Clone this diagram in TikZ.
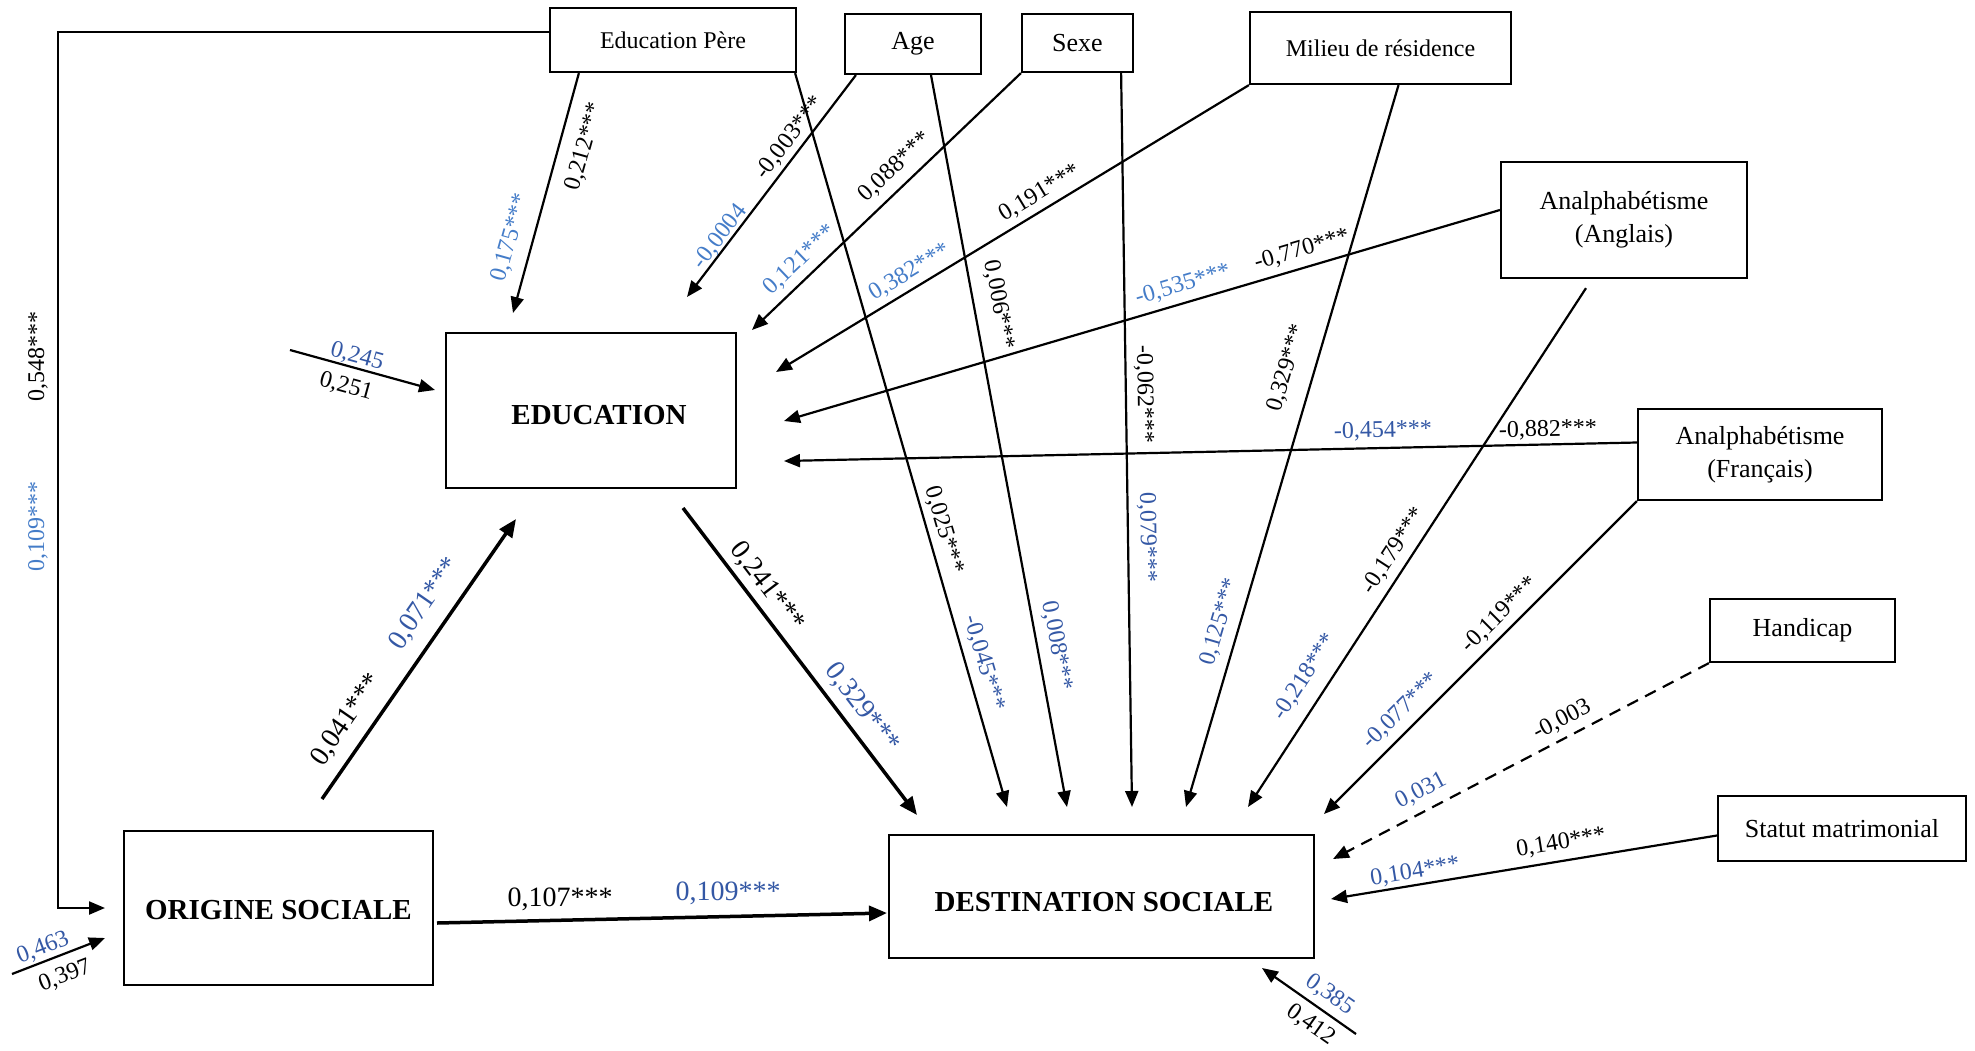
\documentclass[tikz,border=0pt]{standalone}
\usepackage{fontspec}
\setmainfont{Liberation Serif}
\usetikzlibrary{arrows.meta}
\definecolor{lblue}{RGB}{68,124,200}
\definecolor{dblue}{RGB}{52,88,165}
\begin{document}
\begin{tikzpicture}[x=1pt,y=-1pt,
  box/.style={draw, line width=2.2pt, inner sep=0pt, align=center},
  smallbox/.style={box, font=\fontsize{26}{33}\selectfont},
  bigbox/.style={box, font=\fontsize{29}{34}\selectfont\bfseries, text depth=0pt},
  link/.style={line width=2.2pt, -{Triangle[length=16pt,width=13pt]}},
  thicklink/.style={line width=3.5pt, -{Triangle[length=18pt,width=15pt]}},
  dashlink/.style={link, dash pattern=on 12pt off 8pt},
  coef/.style={inner sep=0pt, font=\fontsize{24}{28}\selectfont},
  bigcoef/.style={inner sep=0pt, font=\fontsize{28}{32}\selectfont},
  ]
\useasboundingbox (0,0) rectangle (1975,1050);

% variables
\node[smallbox, minimum width=246pt, minimum height=64pt, font=\fontsize{24}{28}\selectfont] (ep) at (673,40) {Education Père};
\node[smallbox, minimum width=136pt, minimum height=60pt] (age) at (913,44) {Age};
\node[smallbox, minimum width=111pt, minimum height=58pt] (sexe) at (1077.5,43) {Sexe};
\node[smallbox, minimum width=261pt, minimum height=72pt, font=\fontsize{24}{28}\selectfont] (mil) at (1380.5,48) {Milieu de résidence};
\node[smallbox, minimum width=246pt, minimum height=116pt] (ang) at (1624,220) {Analphabétisme\\(Anglais)};
\node[smallbox, minimum width=244pt, minimum height=91pt] (fra) at (1760,454.5) {Analphabétisme\\(Français)};
\node[smallbox, minimum width=185pt, minimum height=63pt] (hand) at (1802.5,630.5) {Handicap};
\node[smallbox, minimum width=248pt, minimum height=65pt] (stat) at (1842,828.5) {Statut matrimonial};
\node[bigbox, minimum width=290pt, minimum height=155pt, text height=28pt] (edu) at (591,410.5) {\hspace*{16pt}EDUCATION};
\node[bigbox, minimum width=309pt, minimum height=154pt, text height=23pt] (ori) at (278.5,908) {ORIGINE SOCIALE};
\node[bigbox, minimum width=425pt, minimum height=123pt, text height=30pt] (dest) at (1101.5,896.5) {\hspace*{5pt}DESTINATION SOCIALE};

% free ends of the paths
\coordinate (tEpEdu) at (513,313);
\coordinate (tAgeEdu) at (687,297);
\coordinate (tSexeEdu) at (752,330);
\coordinate (tMilEdu) at (776,372);
\coordinate (tAngEdu) at (784,421);
\coordinate (tFraEdu) at (784,461);
\coordinate (eEdu) at (290,350);
\coordinate (tErrEdu) at (435,390);
\coordinate (sOriEdu) at (322,799);
\coordinate (tOriEdu) at (516,519);
\coordinate (sEduDest) at (683,508);
\coordinate (tEduDest) at (917,815);
\coordinate (tEpDest) at (1007,807);
\coordinate (tAgeDest) at (1067,807);
\coordinate (tSexeDest) at (1132,807);
\coordinate (tMilDest) at (1186,807);
\coordinate (sAngDest) at ([xshift=-38pt,yshift=-9pt]ang.south);
\coordinate (tAngDest) at (1248,807);
\coordinate (tFraDest) at (1324,814);
\coordinate (tHandDest) at (1333,859);
\coordinate (tStatDest) at (1331,899);
\coordinate (eDest) at (1356,1034);
\coordinate (tErrDest) at (1262,968);
\coordinate (eOri) at (12,974);
\coordinate (tErrOri) at (105,938);
\coordinate (sOriDest) at (437,923);
\coordinate (tOriDest) at (887,913);
\coordinate (cTL) at (58,32);
\coordinate (cBL) at (58,908);
\coordinate (tEpOri) at (105,908);

% paths into EDUCATION
\draw[link] ([xshift=30pt]ep.south west) -- (tEpEdu);
\draw[link] ([xshift=12pt]age.south west) -- (tAgeEdu);
\draw[link] (sexe.south west) -- (tSexeEdu);
\draw[link] (mil.south west) -- (tMilEdu);
\draw[link] ([yshift=10pt]ang.west) -- (tAngEdu);
\draw[link] ([yshift=12pt]fra.west) -- (tFraEdu);
\draw[link] (eEdu) -- (tErrEdu);
\draw[thicklink] (sOriEdu) -- (tOriEdu);

% paths into DESTINATION SOCIALE
\draw[thicklink] (sEduDest) -- (tEduDest);
\draw[link] ([xshift=-2pt]ep.south east) -- (tEpDest);
\draw[link] ([xshift=18pt]age.south) -- (tAgeDest);
\draw[link] ([xshift=-13pt]sexe.south east) -- (tSexeDest);
\draw[link] ([xshift=18pt]mil.south) -- (tMilDest);
\draw[link] (sAngDest) -- (tAngDest);
\draw[link] (fra.south west) -- (tFraDest);
\draw[dashlink] (hand.south west) -- (tHandDest);
\draw[link] ([yshift=-7pt]stat.west) -- (tStatDest);
\draw[link] (eDest) -- (tErrDest);
\draw[thicklink] (sOriDest) -- (tOriDest);

% paths into ORIGINE SOCIALE
\draw[link] (eOri) -- (tErrOri);
\draw[link] ([yshift=8pt]ep.west) -- (cTL) -- (cBL) -- (tEpOri);

% coefficients
\node[coef, rotate=74.4] (c1a) at (585,147) {0,212***};
\node[coef, rotate=74.4, text=lblue] (c1b) at (511,238) {0,175***};
\node[coef, rotate=52.6] (c2a) at (790,138) {-0,003***};
\node[coef, rotate=52.6, text=lblue] (c2b) at (720,237) {-0,0004};
\node[coef, rotate=43.7] (c3a) at (895,167) {0,088***};
\node[coef, rotate=43.7, text=lblue] (c3b) at (800,260) {0,121***};
\node[coef, rotate=31.1] (c4a) at (1040,193) {0,191***};
\node[coef, rotate=31.1, text=lblue] (c4b) at (910,272) {0,382***};
\node[coef, rotate=16.4] (c5a) at (1302,250) {-0,770***};
\node[coef, rotate=16.4, text=lblue] (c5b) at (1183,285) {-0,535***};
\node[coef, rotate=1.3] (c6a) at (1548,430) {-0,882***};
\node[coef, rotate=1.3, text=dblue] (c6b) at (1383,431) {-0,454***};
\node[coef, rotate=-15.4, text=dblue] (c7a) at (357,357) {0,245};
\node[coef, rotate=-15.4] (c7b) at (346,387) {0,251};
\node[bigcoef, rotate=55.3] (c8a) at (347,720) {0,041***};
\node[bigcoef, rotate=55.3, text=dblue] (c8b) at (425,604) {0,071***};
\node[bigcoef, rotate=-52.7] (c9a) at (767,587) {0,241***};
\node[bigcoef, rotate=-52.7, text=dblue] (c9b) at (862,708) {0,329***};
\node[coef, rotate=-73.8] (c10a) at (944,530) {0,025***};
\node[coef, rotate=-73.8, text=dblue] (c10b) at (984,663) {-0,045***};
\node[coef, rotate=-79.5] (c11a) at (999,305) {0,006***};
\node[coef, rotate=-79.5, text=dblue] (c11b) at (1057,646) {0,008***};
\node[coef, rotate=-89.1] (c12a) at (1144,394) {-0,062***};
\node[coef, rotate=-89.1, text=dblue] (c12b) at (1147,537) {0,079***};
\node[coef, rotate=73.6] (c13a) at (1287,368) {0,329***};
\node[coef, rotate=73.6, text=dblue] (c13b) at (1220,622) {0,125***};
\node[coef, rotate=57] (c14a) at (1394,551) {-0,179***};
\node[coef, rotate=57, text=dblue] (c14b) at (1305,677) {-0,218***};
\node[coef, rotate=44.8] (c15a) at (1500,615) {-0,119***};
\node[coef, rotate=44.8, text=dblue] (c15b) at (1401,711) {-0,077***};
\node[coef, rotate=27.6] (c16a) at (1562,720) {-0,003};
\node[coef, rotate=27.6, text=dblue] (c16b) at (1421,791) {0,031};
\node[coef, rotate=9.2] (c17a) at (1561,843) {0,140***};
\node[coef, rotate=9.2, text=dblue] (c17b) at (1415,872) {0,104***};
\node[coef, rotate=-35.1, text=dblue] (c18a) at (1330,995) {0,385};
\node[coef, rotate=-35.1] (c18b) at (1311,1025) {0,412};
\node[coef, rotate=21.2, text=dblue] (c19a) at (43,948) {0,463};
\node[coef, rotate=21.2] (c19b) at (65,976) {0,397};
\node[bigcoef] (c20a) at (560,899) {0,107***};
\node[bigcoef, text=dblue] (c20b) at (728,893) {0,109***};
\node[coef, rotate=90] (c21a) at (38,356) {0,548***};
\node[coef, rotate=90, text=lblue] (c21b) at (38,526) {0,109***};
\end{tikzpicture}
\end{document}
